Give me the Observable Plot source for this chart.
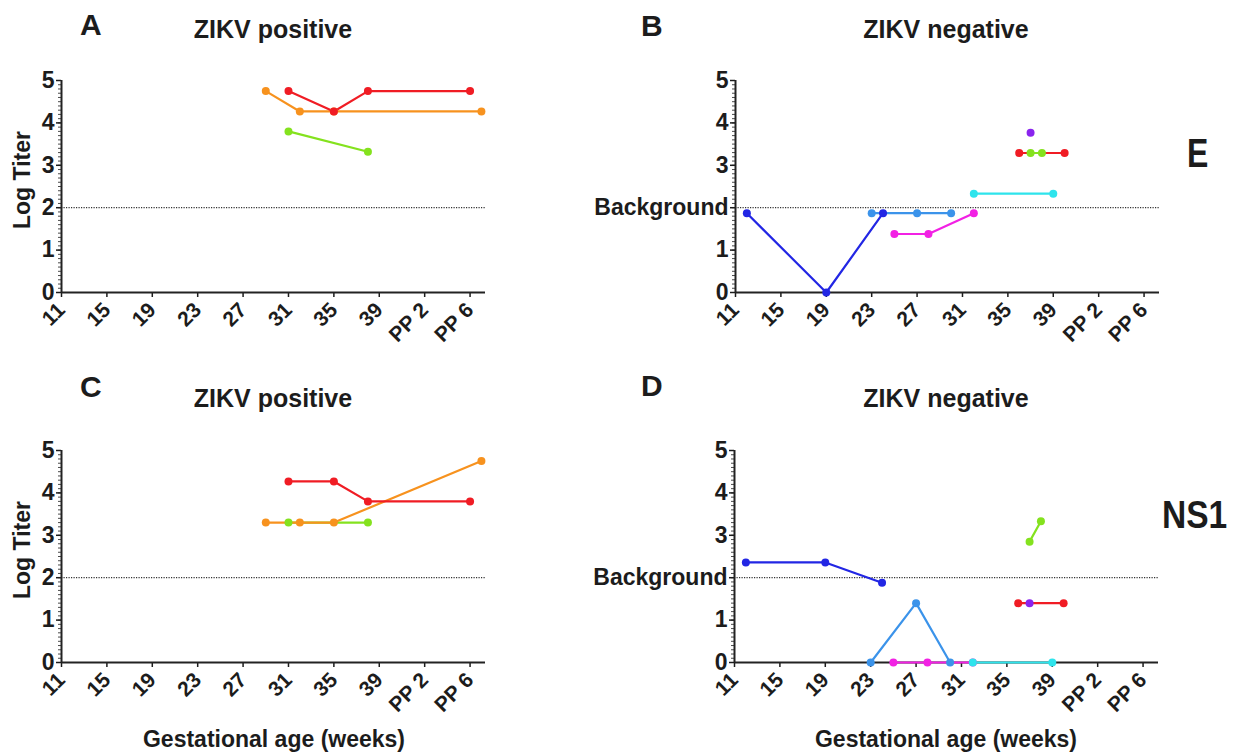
<!DOCTYPE html>
<html><head><meta charset="utf-8">
<script src="https://cdn.jsdelivr.net/npm/d3@7"></script>
<script src="https://cdn.jsdelivr.net/npm/@observablehq/plot@0.6"></script>
<style>
body{margin:0;background:#fff;}
#page{position:relative;width:1244px;height:756px;overflow:hidden;background:#fff;font-family:"Liberation Sans",Arial,sans-serif;font-weight:bold;color:#1c1c1c;}
.t{position:absolute;white-space:nowrap;line-height:1;}
.panel{position:absolute;}
</style></head><body><div id="page"></div>
<script>
// Axis ticks and labels
const tickWeeks = [11, 15, 19, 23, 27, 31, 35, 39, 43, 47];
const tickLabels = ["11", "15", "19", "23", "27", "31", "35", "39", "PP 2", "PP 6"];
const yTicks = [0, 1, 2, 3, 4, 5];
const yLabelsPos = ["0", "1", "2", "3", "4", "5"];
const yLabelsNeg = ["0", "1", "Background", "3", "4", "5"];
const backgroundTiter = 2;

// Series (subjects) and colours
const seriesNames = ["P1", "P2", "P3", "N1", "N2", "N3", "N4", "N5", "N6", "N7"];
const seriesColors = ["#f01c24", "#f7921e", "#84e21e", "#2226e4", "#3b93ea", "#f221e4", "#2ee4ec", "#f01c24", "#84e21e", "#8a24ee"];

// Panel A: E, ZIKV positive
const aSeries = ["P2", "P2", "P2", "P2", "P1", "P1", "P1", "P1", "P3", "P3"];
const aWeek   = [29, 32, 35, 48, 31, 35, 38, 47, 31, 38];
const aTiter  = [4.75, 4.27, 4.27, 4.27, 4.75, 4.27, 4.75, 4.75, 3.8, 3.32];

// Panel B: E, ZIKV negative
const bSeries = ["N2", "N2", "N2", "N1", "N1", "N1", "N3", "N3", "N3", "N4", "N4", "N5", "N5", "N6", "N6", "N7"];
const bWeek   = [23, 27, 30, 12, 19, 24, 25, 28, 32, 32, 39, 36, 40, 37, 38, 37];
const bTiter  = [1.87, 1.87, 1.87, 1.87, 0, 1.87, 1.38, 1.38, 1.87, 2.33, 2.33, 3.29, 3.29, 3.29, 3.29, 3.77];

// Panel C: NS1, ZIKV positive
const cSeries = ["P3", "P3", "P2", "P2", "P2", "P2", "P1", "P1", "P1", "P1"];
const cWeek   = [31, 38, 29, 32, 35, 48, 31, 35, 38, 47];
const cTiter  = [3.3, 3.3, 3.3, 3.3, 3.3, 4.75, 4.27, 4.27, 3.8, 3.8];

// Panel D: NS1, ZIKV negative
const dSeries = ["N1", "N1", "N1", "N2", "N2", "N2", "N3", "N3", "N3", "N4", "N4", "N5", "N5", "N7", "N6", "N6"];
const dWeek   = [12, 19, 24, 23, 27, 30, 25, 28, 32, 32, 39, 36, 40, 37, 37, 38];
const dTiter  = [2.36, 2.36, 1.88, 0, 1.4, 0, 0, 0, 0, 0, 0, 1.4, 1.4, 1.4, 2.85, 3.33];

const minorTicks = d3.range(0, 5.001, 0.1);
const page = document.getElementById("page");

function panel(week, titer, series, yLabels, o) {
  const data = week.map((w, i) => ({week: w, titer: titer[i], s: series[i]}));
  const svg = Plot.plot({
    width: o.width, height: 300,
    marginLeft: o.ml, marginRight: o.mr, marginTop: 20, marginBottom: 68,
    style: {fontFamily: "'Liberation Sans', Arial, sans-serif", fontWeight: "bold", color: "#1c1c1c", background: "transparent", overflow: "visible"},
    x: {type: "linear", domain: [11, 48.36]},
    y: {domain: [0, 5]},
    color: {domain: seriesNames, range: seriesColors},
    marks: [
      Plot.ruleY([backgroundTiter], {stroke: "#333", strokeWidth: 1.2, strokeDasharray: "1.2,1.3"}),
      Plot.axisY(minorTicks, {tickSize: 3, tickFormat: () => "", strokeWidth: 0.8, label: null}),
      Plot.axisY(yTicks, {tickSize: 5, tickPadding: 2, strokeWidth: 1.5, fontSize: 23, label: null,
        tickFormat: d => yLabels[yTicks.indexOf(d)]}),
      Plot.axisX(tickWeeks, {tickSize: 5, tickPadding: 9, strokeWidth: 1.5, fontSize: 21, tickRotate: -45, label: null,
        tickFormat: d => tickLabels[tickWeeks.indexOf(d)]}),
      Plot.ruleY([0], {stroke: "#222", strokeWidth: 2}),
      Plot.ruleX([11], {stroke: "#222", strokeWidth: 2}),
      Plot.line(data, {x: "week", y: "titer", z: "s", stroke: "s", strokeWidth: 2.2}),
      Plot.dot(data, {x: "week", y: "titer", fill: "s", r: 4})
    ]
  });
  svg.classList.add("panel");
  svg.style.left = o.left + "px";
  svg.style.top = o.top + "px";
  page.appendChild(svg);
}

panel(aWeek, aTiter, aSeries, yLabelsPos, {left: 0, top: 60, width: 500, ml: 61, mr: 15});
panel(bWeek, bTiter, bSeries, yLabelsNeg, {left: 580, top: 60, width: 600, ml: 155, mr: 21});
panel(cWeek, cTiter, cSeries, yLabelsPos, {left: 0, top: 430, width: 500, ml: 61, mr: 15});
panel(dWeek, dTiter, dSeries, yLabelsNeg, {left: 580, top: 430, width: 600, ml: 154, mr: 22});

function addText(str, x, baseline, size, anchor, extra) {
  const d = document.createElement("div");
  d.className = "t";
  d.textContent = str;
  d.style.fontSize = size + "px";
  d.style.left = x + "px";
  d.style.top = (baseline - 0.8465 * size) + "px";
  if (anchor === "middle") d.style.transform = "translateX(-50%)";
  if (extra) Object.assign(d.style, extra);
  page.appendChild(d);
  return d;
}
function addRotated(str, cx, cy, size) {
  const d = document.createElement("div");
  d.className = "t";
  d.textContent = str;
  d.style.fontSize = size + "px";
  d.style.left = cx + "px";
  d.style.top = cy + "px";
  d.style.transform = "translate(-50%,-50%) rotate(-90deg)";
  page.appendChild(d);
}

addText("A", 80, 35, 30, "start");
addText("B", 641, 36, 30, "start");
addText("C", 80, 397, 30, "start");
addText("D", 641, 396, 30, "start");
addText("ZIKV positive", 273, 38, 25, "middle");
addText("ZIKV negative", 946, 38, 25, "middle");
addText("ZIKV positive", 273, 407, 25, "middle");
addText("ZIKV negative", 946, 407, 25, "middle");
addText("E", 1187, 168, 41, "start", {transform: "scaleX(0.78)", transformOrigin: "left"});
addText("NS1", 1162, 528, 39, "start", {transform: "scaleX(0.86)", transformOrigin: "left"});
addText("Gestational age (weeks)", 274, 747, 23, "middle");
addText("Gestational age (weeks)", 946, 747, 23, "middle");
addRotated("Log Titer", 22, 180, 23);
addRotated("Log Titer", 22, 550, 23);
</script>
</body></html>
